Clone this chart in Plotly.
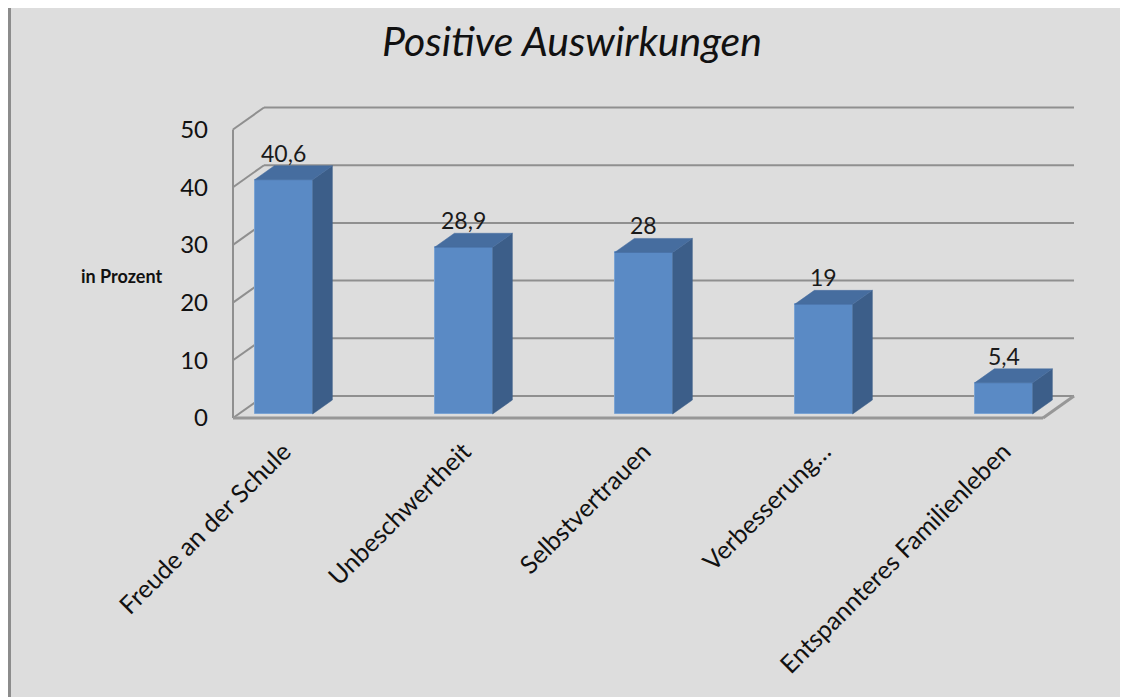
import plotly.graph_objects as go

# ---------------- data ----------------
categories = ["Freude an der Schule", "Unbeschwertheit", "Selbstvertrauen",
              "Verbesserung…", "Entspannteres Familienleben"]
values = [40.6, 28.9, 28, 19, 5.4]
y_ticks = [0, 10, 20, 30, 40, 50]
title_text = "Positive Auswirkungen"
y_title = "in Prozent"

# ---------------- geometry (pseudo-3D) ----------------
# page offset (browser body margin)
OX, OY = 8, 8
W, H = 1128, 697
PX_CAT = 180.0          # pixels per category
PX_UNIT = 5.77          # pixels per percent
FRONT_LEFT_PX = 233 - OX     # x pixel of floor front-left corner
FRONT_BASE_PX = 418 - OY     # y pixel of floor front edge
L_PX, R_PX, T_PX, B_PX = 225 - OX, 1084 - OX, 98 - OY, 428 - OY   # plot area

n = len(categories)
x_lo = -0.25
x_hi = n - 1 + 0.25
DX = 31.0 / PX_CAT       # depth offset in x units
DY = 22.0 / PX_UNIT      # depth offset in y units
f0, f1 = 4.0 / 22.0, 18.0 / 22.0   # bar front / back in depth fraction
bar_w = 58.0 / PX_CAT

def px_to_x(p):
    return x_lo + (p - FRONT_LEFT_PX) / PX_CAT

def py_to_y(p):
    return (FRONT_BASE_PX - p) / PX_UNIT

xr = [px_to_x(L_PX), px_to_x(R_PX)]
yr = [py_to_y(B_PX), py_to_y(T_PX)]

def paper_x(p):
    return (p - OX - L_PX) / (R_PX - L_PX)

def paper_y(p):
    return (B_PX - (p - OY)) / (B_PX - T_PX)

BG = "#dddddd"
GRID = "#8f8f8f"
FRONT = "#5a8ac5"
SIDE = "#3c5e89"
TOP = "#466d9f"
FONT = "Lato"

fig = go.Figure()

# front faces of the bars
xc = [i + f0 * DX for i in range(n)]
fig.add_trace(go.Bar(
    x=xc, y=values, base=f0 * DY, width=bar_w,
    marker=dict(color=FRONT, line=dict(color="#7aa3d3", width=1)),
    hoverinfo="skip", showlegend=False))

# side and top faces
bdx = (f1 - f0) * DX
bdy = (f1 - f0) * DY
for i, v in enumerate(values):
    xl = xc[i] - bar_w / 2
    xrr = xc[i] + bar_w / 2
    b = f0 * DY
    t = b + v
    fig.add_trace(go.Scatter(
        x=[xrr, xrr + bdx, xrr + bdx, xrr, xrr],
        y=[b, b + bdy, t + bdy, t, b],
        fill="toself", fillcolor=SIDE, mode="lines",
        line=dict(color=SIDE, width=0.5), hoverinfo="skip", showlegend=False))
    fig.add_trace(go.Scatter(
        x=[xl, xrr, xrr + bdx, xl + bdx, xl],
        y=[t, t, t + bdy, t + bdy, t],
        fill="toself", fillcolor=TOP, mode="lines",
        line=dict(color=TOP, width=0.5), hoverinfo="skip", showlegend=False))

# data labels
def fmt(v):
    return str(int(v)) if float(v).is_integer() else f"{v:.1f}".replace(".", ",")

for i, v in enumerate(values):
    fig.add_annotation(x=xc[i], y=v + f0 * DY + bdy, text=fmt(v),
                       showarrow=False, yanchor="middle", yshift=13,
                       font=dict(family=FONT, size=23, color="#1a1a1a"))

# walls / gridlines as shapes below the traces
shapes = []
for v in y_ticks:
    shapes.append(dict(type="line", xref="x", yref="y", layer="below",
                       x0=x_lo + DX, y0=v + DY, x1=x_hi + DX, y1=v + DY,
                       line=dict(color=GRID, width=2)))
    shapes.append(dict(type="line", xref="x", yref="y", layer="below",
                       x0=x_lo, y0=v, x1=x_lo + DX, y1=v + DY,
                       line=dict(color=GRID, width=2)))
shapes.append(dict(type="line", xref="x", yref="y", layer="below",
                   x0=x_lo, y0=0, x1=x_lo, y1=y_ticks[-1],
                   line=dict(color=GRID, width=2)))
shapes.append(dict(type="line", xref="x", yref="y", layer="below",
                   x0=x_lo, y0=0, x1=x_hi, y1=0,
                   line=dict(color="#979797", width=3)))
shapes.append(dict(type="line", xref="x", yref="y", layer="below",
                   x0=x_hi, y0=0, x1=x_hi + DX, y1=DY,
                   line=dict(color="#979797", width=3)))

# left border line of the chart
shapes.append(dict(type="line", xref="paper", yref="paper", layer="below",
                   x0=paper_x(9.5), x1=paper_x(9.5), y0=paper_y(H + OY), y1=paper_y(OY),
                   line=dict(color="#8c8c8c", width=3)))

# y axis title
fig.add_annotation(xref="paper", yref="paper", x=paper_x(121), y=paper_y(276),
                   text="<b>" + y_title + "</b>", showarrow=False,
                   xanchor="center", yanchor="middle",
                   font=dict(family=FONT, size=18, color="#111111"))

fig.update_layout(
    width=W, height=H,
    margin=dict(l=L_PX, r=W - R_PX, t=T_PX, b=H - B_PX, pad=0),
    paper_bgcolor=BG, plot_bgcolor="rgba(0,0,0,0)",
    shapes=shapes,
    title=dict(text="<i>" + title_text + "</i>", x=(572 - OX) / W, y=1 - (42 - OY) / H,
               xanchor="center", yanchor="middle",
               font=dict(family=FONT, size=41, color="#111111")),
    xaxis=dict(range=xr, tickmode="array", tickvals=xc, ticktext=categories,
               tickangle=-45, showgrid=False, zeroline=False, showline=False,
               ticks="", ticklabelstandoff=3,
               tickfont=dict(family=FONT, size=25, color="#111111")),
    yaxis=dict(range=yr, tickmode="array", tickvals=y_ticks,
               showgrid=False, zeroline=False, showline=False,
               ticks="", ticklabelstandoff=16,
               tickfont=dict(family=FONT, size=24, color="#111111")),
    showlegend=False, bargap=0,
)

fig.write_html("out.html")
